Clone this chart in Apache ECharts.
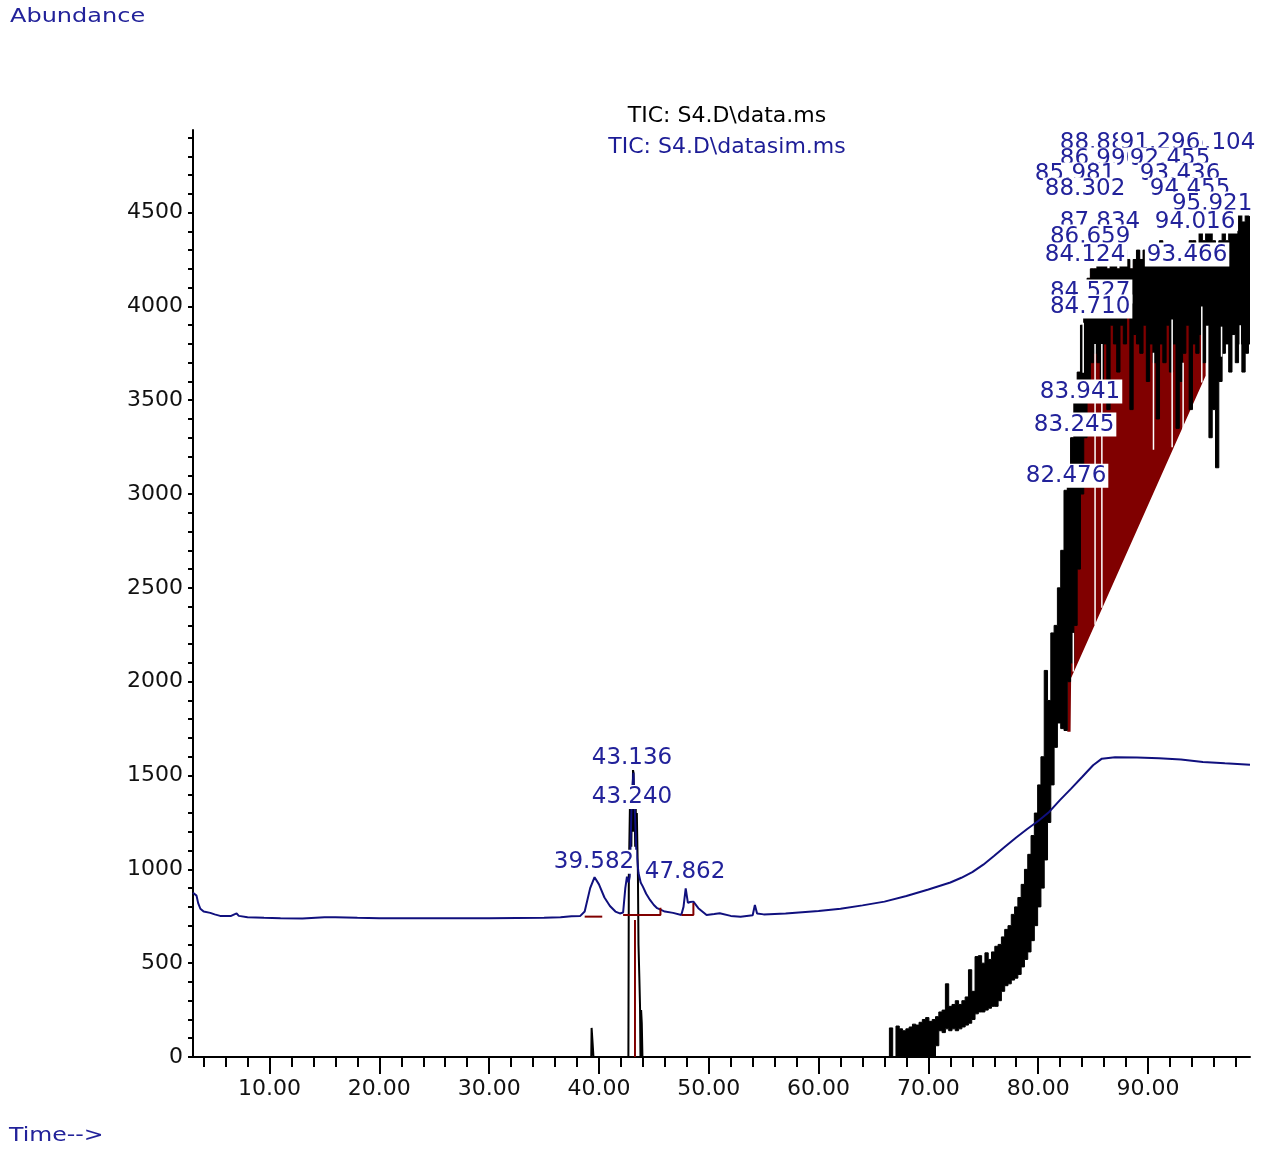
<!DOCTYPE html>
<html><head><meta charset="utf-8">
<script src="https://cdn.jsdelivr.net/npm/echarts@6/dist/echarts.min.js"></script>
<style>html,body{margin:0;padding:0;background:#fff}#c{width:1271px;height:1150px}</style>
</head><body><div id="c"></div>
<script>
// ---- axes ----
const X_MIN = 3.03, X_MAX = 99.29, Y_MAX = 4940;
const xLabelValues = [10, 20, 30, 40, 50, 60, 70, 80, 90];
const xMinorTicks = [4,6,8,12,14,16,18,22,24,26,28,32,34,36,38,42,44,46,48,52,54,56,58,62,64,66,68,72,74,76,78,82,84,86,88,92,94,96,98];
const yLabelValues = [0, 500, 1000, 1500, 2000, 2500, 3000, 3500, 4000, 4500];
const yTickValues = [0,100,200,300,400,500,600,700,800,900,1000,1100,1200,1300,1400,1500,1600,1700,1800,1900,2000,2100,2200,2300,2400,2500,2600,2700,2800,2900,3000,3100,3200,3300,3400,3500,3600,3700,3800,3900,4000,4100,4200,4300,4400,4500,4600,4700,4800,4900];

// ---- TIC: datasim.ms (blue) [time, abundance] ----
const simData = [[3.03,875],[3.2,885],[3.35,860],[3.5,820],[3.7,790],[4.0,775],[4.6,768],[5.0,760],[5.5,752],[6.5,752],[7.0,765],[7.2,752],[8.0,745],[9.5,742],[11.0,740],[13.0,738],[15.0,745],[16.0,745],[18.0,742],[20.0,740],[25.0,740],[30.0,740],[35.0,742],[36.5,745],[37.5,750],[38.3,752],[38.7,775],[39.2,900],[39.6,958],[40.0,920],[40.5,850],[41.0,805],[41.5,775],[41.9,765],[42.2,770],[42.4,900],[42.55,961],[42.7,930],[42.8,960],[43.0,1400],[43.14,1514],[43.25,1340],[43.4,1100],[43.6,980],[43.8,930],[44.0,908],[44.3,870],[44.65,837],[45.0,810],[45.3,793],[46.0,775],[46.75,768],[47.5,757],[47.7,800],[47.9,899],[48.1,821],[48.3,826],[48.6,828],[49.05,793],[49.8,757],[50.5,762],[51.0,766],[52.0,752],[52.9,748],[54.0,755],[54.2,810],[54.4,765],[55.0,760],[57.0,765],[60.0,778],[62,790],[64,808],[66,828],[68,858],[70,893],[72,930],[73,955],[74,985],[75,1025],[76,1072],[77,1122],[78,1170],[79,1215],[80,1258],[81,1306],[82,1370],[83,1430],[84,1492],[85,1555],[85.8,1590],[87,1598],[89,1596],[91,1592],[93,1585],[95,1572],[97,1565],[99.29,1558]];

// ---- TIC: data.ms (black) early part [time, abundance] ----
const msData = [[3.03,0],[39.30,0],[39.33,155],[39.38,155],[39.42,75],[39.47,75],[39.5,0],[42.68,0],[42.72,960],[42.78,960],[42.82,1330],[42.86,1120],[42.9,1330],[42.95,1120],[43.0,1450],[43.05,1200],[43.1,1530],[43.15,1514],[43.2,1200],[43.25,1330],[43.3,1120],[43.35,1330],[43.4,1120],[43.45,1300],[43.5,1120],[43.55,960],[43.6,600],[43.68,420],[43.74,270],[43.78,0],[43.84,250],[43.9,180],[43.96,0],[66.2,0]];

// ---- TIC: data.ms (black) late part, low / high envelope per 0.3 min bin from 66.3 ----
const BIN_START = 66.3, BIN_STEP = 0.3;
const msLow = [0,0,0,0,0,0,0,0,0,0,
  0,0,0,0,0,60,140,130,150,140,
  150,140,150,160,170,180,200,230,240,240,
  250,260,270,270,300,350,380,390,410,420,
  440,480,520,560,620,700,800,900,1050,1250,
  1450,1650,1780,1750,1740,2000,2100,2300,2600,3000,
  3300,3500,3700,3750,3700,3600,3800,3450,3900,3800,
  3650,3900,3800,3950,3450,3850,3800,3750,3900,3600,
  3800,3700,3400,3800,3700,3900,3650,3800,3350,3600,
  3750,3900,3450,3800,3750,3850,3700,3900,3300,3450,
  3140,3600,3750,3800,3650,3850,3700,3800,3650,3750,
  3800];
const msHigh = [0,155,0,165,150,140,150,160,175,170,
  185,200,210,190,200,215,240,250,390,270,
  280,300,280,300,320,465,350,535,540,500,
  555,520,560,590,600,640,680,700,760,800,
  850,920,1000,1080,1180,1300,1450,1600,2060,1900,
  2260,2300,2500,2700,3020,3100,3300,3500,3650,3900,
  4050,4150,4200,4200,4250,4250,4250,4200,4250,4250,
  4200,4250,4300,4250,4200,4250,4300,4250,4300,4250,
  4300,4250,4300,4350,4250,4300,4250,4300,4250,4300,
  4250,4300,4350,4350,4300,4400,4350,4400,4450,4350,
  4300,4350,4400,4350,4400,4450,4400,4500,4450,4500,
  4480];
const binTimes = msLow.map((_, i) => +(BIN_START + i * BIN_STEP).toFixed(2));

// ---- integration (red) ----
const RED_FROM = 82.8, RED_TO = 95.1;
const integBase = [[82.65,1733],[82.95,1733],[83.0,2020],[95.25,3630]];
const gapLines = [[83.2,2054,2260],[84.1,3647,3913],[85.18,2303,3800],[85.8,2394,3800],[90.5,3236,3753],[92.2,3250,3930],[93.2,3343,3700],[94.9,3594,4000],[96.7,3732,3892],[98.4,3700,3900]];
const redSegments = [
  [[38.7,748],[40.3,748]],
  [[42.2,757],[45.6,757],[45.6,795]],
  [[47.53,757],[48.6,757],[48.6,821]],
  [[43.28,0],[43.28,730]]
];

// ---- peak labels [text, time, abundance] (drawn top rows first) ----
const peakLabels = [
  ['88.883',85.63,4873],['96.104',96.11,4873],['91.296',91.10,4873],
  ['86.990',85.63,4783],['92.455',92.01,4783],
  ['85.981',83.36,4703],['93.436',92.92,4703],
  ['88.302',84.27,4623],['94.455',93.83,4623],
  ['95.921',95.84,4548],
  ['87.834',85.63,4452],['94.016',94.29,4452],
  ['86.659',84.73,4372],
  ['84.124',84.27,4276],['93.466',93.56,4276],
  ['84.527',84.73,4079],
  ['84.710',84.73,3999],
  ['83.941',83.81,3546],
  ['83.245',83.27,3370],
  ['82.476',82.54,3098],
  ['43.136',43.01,1594],
  ['43.240',43.01,1386],
  ['39.582',39.55,1040],
  ['47.862',47.84,986]
];

const FONT = 'DejaVu Sans';
const BLUE_TEXT = '#22229a';
const NAVY = '#10107e';
const RED = '#800000';

const chart = echarts.init(document.getElementById('c'), null, {renderer: 'canvas'});

const redLineSeries = redSegments.map(seg => ({
  type: 'line', data: seg, symbol: 'none', silent: true, z: 6,
  lineStyle: {color: RED, width: 2}, xAxisIndex: 0, yAxisIndex: 0
}));

const gridRect = {left: 193, right: 21, top: 130, bottom: 93, outerBoundsMode: 'none'};

chart.setOption({
  animation: false,
  backgroundColor: '#fff',
  title: {
    text: 'TIC: S4.D\\data.ms', subtext: 'TIC: S4.D\\datasim.ms',
    left: 722, top: 100, textAlign: 'center', itemGap: 9,
    textStyle: {fontFamily: FONT, fontSize: 22, fontWeight: 'normal', color: '#000'},
    subtextStyle: {fontFamily: FONT, fontSize: 22, color: '#1c1c96'}
  },
  graphic: [
    {type: 'text', x: 10, y: 7, scaleX: 1.2, style: {text: 'Abundance', font: '20px "DejaVu Sans"', fill: BLUE_TEXT}},
    {type: 'text', x: 9, y: 1126, scaleX: 1.18, style: {text: 'Time-->', font: '20px "DejaVu Sans"', fill: BLUE_TEXT}}
  ],
  grid: [Object.assign({}, gridRect), Object.assign({}, gridRect)],
  xAxis: [{
    type: 'value', gridIndex: 0, min: X_MIN, max: X_MAX, position: 'bottom',
    axisLine: {show: true, onZero: false, lineStyle: {color: '#000', width: 2}},
    axisTick: {show: true, customValues: xLabelValues, length: 17, lineStyle: {color: '#000', width: 2}},
    axisLabel: {customValues: xLabelValues, formatter: v => Number(v).toFixed(2), margin: 21, fontSize: 22, fontFamily: FONT, color: '#111'},
    splitLine: {show: false}
  }, {
    type: 'value', gridIndex: 1, min: X_MIN, max: X_MAX, position: 'bottom',
    axisLine: {show: false, onZero: false},
    axisTick: {show: true, customValues: xMinorTicks, length: 10, lineStyle: {color: '#000', width: 2}},
    axisLabel: {show: false}, splitLine: {show: false}
  }],
  yAxis: [{
    type: 'value', gridIndex: 0, min: 0, max: Y_MAX,
    axisLine: {show: true, onZero: false, lineStyle: {color: '#000', width: 2}},
    axisTick: {show: true, customValues: yTickValues, length: 5, lineStyle: {color: '#000', width: 2}},
    axisLabel: {customValues: yLabelValues, formatter: v => String(v), margin: 10, fontSize: 22, fontFamily: FONT, color: '#111'},
    splitLine: {show: false}
  }, {
    type: 'value', gridIndex: 1, min: 0, max: Y_MAX, show: false
  }],
  series: [
    // red integration area
    {
      type: 'custom', xAxisIndex: 0, yAxisIndex: 0, z: 2, silent: true, clip: true,
      data: [[RED_FROM, 0]],
      renderItem: (params, api) => {
        const pts = [];
        binTimes.forEach((t, i) => {
          if (t < RED_FROM - 1e-6 || t > RED_TO + 1e-6) return;
          pts.push(api.coord([t - BIN_STEP / 2, msHigh[i]]));
          pts.push(api.coord([t + BIN_STEP / 2, msHigh[i]]));
        });
        for (let j = integBase.length - 1; j >= 0; j--) pts.push(api.coord(integBase[j]));
        return {type: 'polygon', shape: {points: pts}, style: {fill: RED, opacity: 1}};
      }
    },
    // black late noisy TIC: band between low and high envelopes
    {
      type: 'custom', xAxisIndex: 0, yAxisIndex: 0, z: 3, silent: true, clip: true,
      data: [[BIN_START, 0]],
      renderItem: (params, api) => {
        const top = [], bottom = [];
        binTimes.forEach((t, i) => {
          top.push(api.coord([t - BIN_STEP / 2, msHigh[i]]));
          top.push(api.coord([t + BIN_STEP / 2, msHigh[i]]));
          bottom.push(api.coord([t - BIN_STEP / 2, msLow[i]]));
          bottom.push(api.coord([t + BIN_STEP / 2, msLow[i]]));
        });
        const pts = top.concat(bottom.reverse());
        return {type: 'polygon', shape: {points: pts}, style: {fill: '#000', stroke: '#000', lineWidth: 1, opacity: 1}};
      }
    },
    // white gaps between integrated peaks
    {
      type: 'custom', xAxisIndex: 0, yAxisIndex: 0, z: 4, silent: true, clip: true,
      data: gapLines, encode: {x: 0, y: [1, 2]},
      renderItem: (params, api) => {
        const a = api.coord([api.value(0), api.value(1)]);
        const b = api.coord([api.value(0), api.value(2)]);
        return {type: 'line', shape: {x1: a[0], y1: a[1], x2: b[0], y2: b[1]}, style: {stroke: '#fff', lineWidth: 1.5}};
      }
    },
    // black early TIC
    {
      type: 'line', name: 'TIC: S4.D\\data.ms', data: msData, symbol: 'none', z: 4, silent: true,
      lineStyle: {color: '#000', width: 2}
    },
    // blue datasim TIC
    {
      type: 'line', name: 'TIC: S4.D\\datasim.ms', data: simData, symbol: 'none', z: 5, silent: true,
      lineStyle: {color: NAVY, width: 2}
    },
    ...redLineSeries,
    // peak labels
    {
      type: 'scatter', symbolSize: 0, z: 10, silent: true,
      itemStyle: {opacity: 1},
      data: peakLabels.map(p => ({name: p[0], value: [p[1], p[2]]})),
      label: {show: true, position: 'inside', formatter: '{b}', color: BLUE_TEXT, fontSize: 23, fontFamily: FONT,
        backgroundColor: '#ffffff', opacity: 1, padding: [1, 2, 0, 2]},
      labelLayout: {hideOverlap: false},
      emphasis: {disabled: true}
    }
  ]
});
</script>
</body></html>
